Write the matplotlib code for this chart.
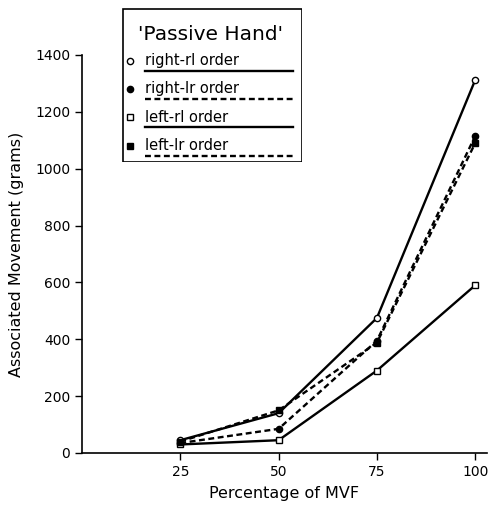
import matplotlib
matplotlib.use("Agg")
import matplotlib.pyplot as plt
from matplotlib.patches import Rectangle

# ---- data ----
mvf = [25, 50, 75, 100]
right_rl = [45, 140, 475, 1312]
right_lr = [35, 85, 395, 1115]
left_rl = [30, 45, 290, 590]
left_lr = [40, 150, 388, 1090]
series_labels = ["right-rl order", "right-lr order", "left-rl order", "left-lr order"]
x_ticks = [25, 50, 75, 100]
y_ticks = [0, 200, 400, 600, 800, 1000, 1200, 1400]

plt.rcParams['font.family'] = ['DejaVu Sans']

fig = plt.figure(figsize=(4.9, 5.13), dpi=100)
ax = fig.add_axes([82/490, 1-453/513, (487-82)/490, (453-55)/513])

styles = [
    dict(marker='o', mfc='white', ls='-'),
    dict(marker='o', mfc='black', ls=(0, (2.5, 1.5))),
    dict(marker='s', mfc='white', ls='-'),
    dict(marker='s', mfc='black', ls=(0, (2.5, 1.5))),
]
series = [right_rl, right_lr, left_rl, left_lr]
for vals, st in zip(series, styles):
    ax.plot(mvf, vals, color='black', lw=1.7, ms=4.5, mec='black', mew=1.0,
            marker=st['marker'], mfc=st['mfc'], linestyle=st['ls'],
            clip_on=False)

ax.set_xlim(0, 103)
ax.set_ylim(0, 1400)
ax.set_xticks(x_ticks)
ax.set_yticks(y_ticks)
ax.spines['top'].set_visible(False)
ax.spines['right'].set_visible(False)
for s in ['left', 'bottom']:
    ax.spines[s].set_linewidth(1.2)
ax.tick_params(direction='out', length=5, width=1.0, labelsize=10)
for lbl in ax.get_xticklabels() + ax.get_yticklabels():
    lbl.set_fontweight('medium')
ax.set_xlabel("Percentage of MVF", fontsize=11.5, labelpad=5)
ax.set_ylabel("Associated Movement (grams)", fontsize=11.5, labelpad=8)

# ---- custom legend ----
lx0, ly_top, lx1, ly_bot = 122, 8, 302, 162
lax = fig.add_axes([lx0/490, 1-ly_bot/513, (lx1-lx0)/490, (ly_bot-ly_top)/513])
lax.set_xlim(lx0, lx1)
lax.set_ylim(ly_bot, ly_top)
lax.axis('off')
lax.add_patch(Rectangle((lx0+0.5, ly_top+0.5), lx1-lx0-1, ly_bot-ly_top-1,
                        fill=True, facecolor='white', edgecolor='black', lw=1.2))
lax.text(210, 34, "'Passive Hand'", fontsize=14.5, ha='center', va='center')
text_y = [61, 89, 117, 146]
for lab, st, ty in zip(series_labels, styles, text_y):
    lax.plot([130], [ty], marker=st['marker'], mfc=st['mfc'], mec='black',
             mew=1.0, ms=4.5, color='black', ls='none')
    lax.text(145, ty, lab, fontsize=10.5, ha='left', va='center')
    lax.plot([145, 293], [ty + 10, ty + 10], color='black', lw=1.7,
             linestyle=st['ls'])

fig.savefig("out.png", dpi=100)
